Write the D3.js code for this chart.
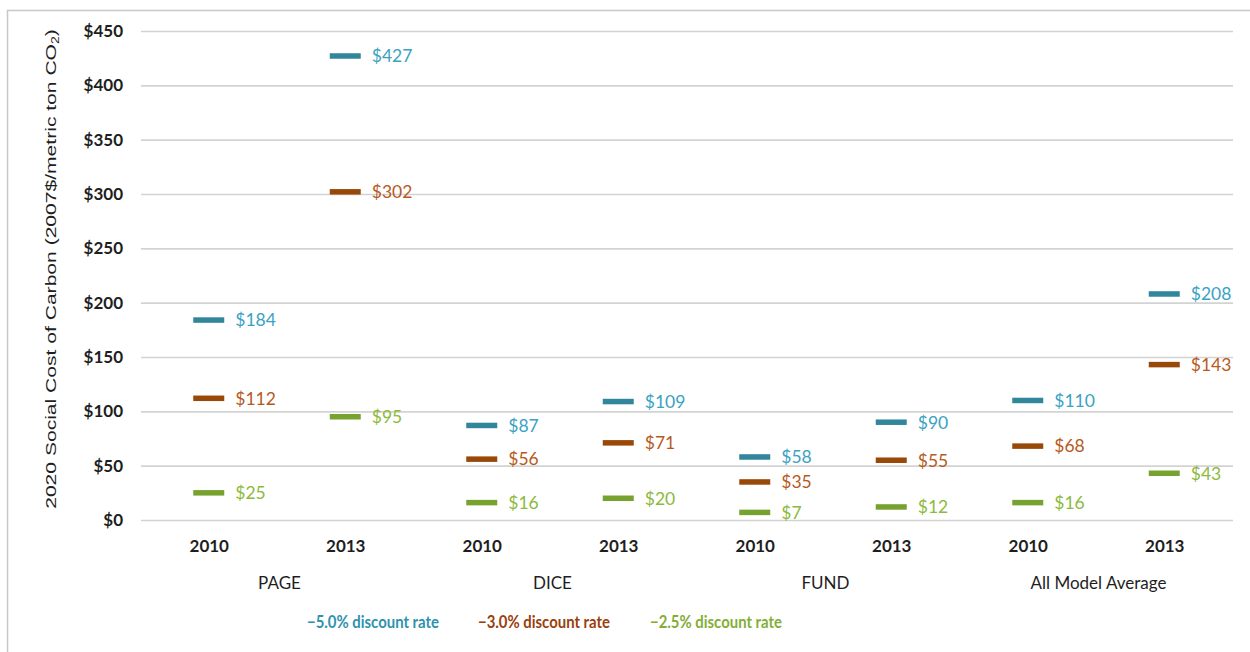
<!DOCTYPE html>
<html>
<head>
<meta charset="utf-8">
<script src="https://cdn.jsdelivr.net/npm/d3@7"></script>
<style>
  html, body { margin: 0; padding: 0; background: #fff; }
  svg { display: block; }
</style>
</head>
<body>
<svg id="chart" width="1250" height="652"></svg>
<script>
const models = ["PAGE", "DICE", "FUND", "All Model Average"];
const years = ["2010", "2013"];
const rate50 = [184, 427, 87, 109, 58, 90, 110, 208];
const rate30 = [112, 302, 56, 71, 35, 55, 68, 143];
const rate25 = [25, 95, 16, 20, 7, 12, 16, 43];
const yTicks = [0, 50, 100, 150, 200, 250, 300, 350, 400, 450];
const seriesNames = ["5.0% discount rate", "3.0% discount rate", "2.5% discount rate"];

(function () {
const svg = d3.select("#chart");
const W = 1250, H = 652;
const pLeft = 141, pRight = 1233, pTop = 31, pBottom = 520;
const gillFont = "Lato, 'Open Sans', sans-serif";

// frame
svg.append("path")
  .attr("d", `M7.5,${H + 5} L7.5,10.5 L${W + 5},10.5`)
  .attr("fill", "none").attr("stroke", "#c8c8c8").attr("stroke-width", 1.5);

const slots = [];
models.forEach((m, i) => years.forEach((yr, j) => slots.push(i * 2 + j)));

const x = d3.scaleBand().domain(slots).range([pLeft, pRight]).padding(0);
const y = d3.scaleLinear().domain([0, 450]).range([pBottom, pTop]);

// y axis with gridlines
const yAxis = d3.axisLeft(y)
  .tickValues(yTicks)
  .tickFormat(d => "$" + d)
  .tickSizeInner(-(pRight - pLeft))
  .tickSizeOuter(0)
  .tickPadding(18);

const gy = svg.append("g").attr("transform", `translate(${pLeft},0)`).call(yAxis);
gy.select(".domain").remove();
gy.selectAll(".tick line").attr("stroke", "#d3d3d3").attr("stroke-width", 1.6);
gy.selectAll(".tick text")
  .attr("font-family", gillFont).attr("font-size", 17).attr("font-weight", 700)
  .attr("fill", "#1e1e1e");

// x axis: years
const xAxis = d3.axisBottom(x)
  .tickFormat(d => years[d % 2])
  .tickSize(0)
  .tickPadding(20);
const gx = svg.append("g").attr("transform", `translate(0,${pBottom})`).call(xAxis);
gx.select(".domain").remove();
gx.selectAll(".tick text")
  .attr("font-family", gillFont).attr("font-size", 17).attr("font-weight", 700)
  .attr("fill", "#1e1e1e");

// model group labels
svg.append("g").selectAll("text").data(models).join("text")
  .attr("x", (d, i) => (x(i * 2) + x(i * 2 + 1) + x.bandwidth()) / 2 + 2)
  .attr("y", 583)
  .attr("dy", "0.35em")
  .attr("text-anchor", "middle")
  .attr("font-family", gillFont).attr("font-size", 17)
  .attr("fill", "#1e1e1e")
  .text(d => d);

// y title (stretched along its length like the reference)
const ytG = svg.append("g").attr("transform", `translate(51,269) rotate(-90)`);
const yt = ytG.append("text")
  .attr("text-anchor", "middle")
  .attr("dy", "0.35em")
  .attr("font-family", "'Liberation Sans', Arial, sans-serif")
  .attr("font-size", 15)
  .attr("fill", "#1e1e1e");
yt.append("tspan").text("2020 Social Cost  of Carbon (2007$/metric ton CO");
yt.append("tspan").attr("font-size", 10).attr("dy", 3).text("2");
yt.append("tspan").attr("dy", -3).text(")");
const tl = yt.node().getComputedTextLength();
if (tl > 0) yt.attr("transform", `scale(${480 / tl},1)`);

// series
const series = [
  { name: seriesNames[0], values: rate50, mark: "#31869b", label: "#3aa2c2", legend: "#2f92ad" },
  { name: seriesNames[1], values: rate30, mark: "#984807", label: "#b65a22", legend: "#9a400c" },
  { name: seriesNames[2], values: rate25, mark: "#77a22f", label: "#8cba3c", legend: "#83ae36" }
];

const dashW = 31, dashH = 5.5;
series.forEach(s => {
  const g = svg.append("g");
  g.selectAll("rect").data(s.values).join("rect")
    .attr("x", (d, i) => x(i) + x.bandwidth() / 2 - 16)
    .attr("y", d => y(d) - dashH / 2)
    .attr("width", dashW)
    .attr("height", dashH)
    .attr("fill", s.mark);
  g.selectAll("text").data(s.values).join("text")
    .attr("x", (d, i) => x(i) + x.bandwidth() / 2 + 26)
    .attr("y", d => y(d))
    .attr("dy", "0.36em")
    .attr("font-family", gillFont).attr("font-size", 17.5)
    .attr("fill", s.label)
    .text(d => "$" + d);
});

// legend
const legendX = [307, 478, 650];
const lg = svg.append("g");
series.forEach((s, i) => {
  const t = lg.append("text")
    .attr("x", legendX[i]).attr("y", 622).attr("dy", "0.35em")
    .attr("font-family", gillFont).attr("font-size", 16.5).attr("font-weight", 700)
    .attr("fill", s.legend)
    .text("\u2212" + s.name);
  const len = t.node().getComputedTextLength();
  if (len > 132) t.attr("textLength", 132).attr("lengthAdjust", "spacingAndGlyphs");
});
})();
</script>
</body>
</html>
